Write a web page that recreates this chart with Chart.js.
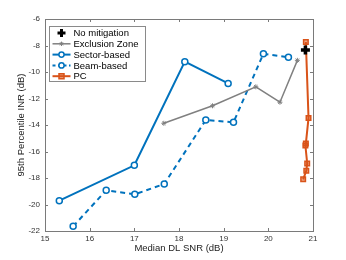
<!DOCTYPE html>
<html>
<head>
<meta charset="utf-8">
<script src="https://cdn.jsdelivr.net/npm/chart.js@4.4.1/dist/chart.umd.min.js"></script>
<style>
  html, body { margin: 0; padding: 0; background: #fff; }
  #wrap { width: 346px; height: 260px; position: relative; }
</style>
</head>
<body>
<div id="wrap"><canvas id="chart" width="346" height="260"></canvas></div>
<script>
// values
const noMitX = [20.83];
const noMitY = [-8.34];
const exclX = [17.66, 18.75, 19.72, 20.26, 20.65];
const exclY = [-13.87, -12.55, -11.12, -12.28, -9.12];
const sectorX = [15.32, 17.0, 18.13, 19.1];
const sectorY = [-19.71, -17.04, -9.22, -10.86];
const beamX = [15.63, 16.37, 17.01, 17.67, 18.6, 19.22, 19.89, 20.45];
const beamY = [-21.65, -18.93, -19.23, -18.45, -13.62, -13.8, -8.62, -8.89];
const pcX = [20.78, 20.85, 20.87, 20.83, 20.84, 20.9, 20.84];
const pcY = [-18.1, -17.45, -16.9, -15.55, -15.4, -13.47, -7.74];

const xTicks = [15, 16, 17, 18, 19, 20, 21];
const yTicks = [-22, -20, -18, -16, -14, -12, -10, -8, -6];
const seriesNames = ['No mitigation', 'Exclusion Zone', 'Sector-based', 'Beam-based', 'PC'];

const FONT = '"Liberation Sans", Arial, Helvetica, sans-serif';
const BLUE = '#0072BD';
const ORANGE = '#D95319';
const GRAY = '#808080';

function pts(xs, ys) {
  return xs.map((x, i) => ({ x: x, y: ys[i] }));
}

const datasets = [
  {
    label: seriesNames[0], data: pts(noMitX, noMitY), showLine: false,
    pointStyle: 'cross', pointRadius: 4.5, pointBorderWidth: 3.5,
    borderColor: '#000', backgroundColor: '#000'
  },
  {
    label: seriesNames[1], data: pts(exclX, exclY), showLine: true,
    borderColor: GRAY, borderWidth: 1.5, pointStyle: 'star', pointRadius: 2.5,
    pointBorderWidth: 1, pointBorderColor: GRAY, backgroundColor: GRAY
  },
  {
    label: seriesNames[2], data: pts(sectorX, sectorY), showLine: true,
    borderColor: BLUE, borderWidth: 2, pointStyle: 'circle', pointRadius: 3,
    pointBorderWidth: 1.5, pointBackgroundColor: '#fff', pointBorderColor: BLUE
  },
  {
    label: seriesNames[3], data: pts(beamX, beamY), showLine: true,
    borderColor: BLUE, borderWidth: 2, borderDash: [5, 4], pointStyle: 'circle', pointRadius: 3,
    pointBorderWidth: 1.5, pointBackgroundColor: '#fff', pointBorderColor: BLUE
  },
  {
    label: seriesNames[4], data: pts(pcX, pcY), showLine: true,
    borderColor: ORANGE, borderWidth: 2, pointStyle: 'rect', pointRadius: 3.2,
    pointBorderWidth: 1.5, pointBackgroundColor: 'rgba(217,83,25,0.55)', pointBorderColor: ORANGE
  }
];

// legend sample marker, drawn by hand
function legendMarker(ctx, ds, xm, cy) {
  ctx.save();
  ctx.strokeStyle = ds.pointBorderColor || ds.borderColor;
  ctx.fillStyle = ds.pointBackgroundColor || ds.backgroundColor;
  ctx.lineWidth = ds.pointBorderWidth;
  ctx.beginPath();
  if (ds.pointStyle === 'circle') {
    ctx.arc(xm, cy, 2.6, 0, Math.PI * 2);
    ctx.fill(); ctx.stroke();
  } else if (ds.pointStyle === 'rect') {
    const r = 2.5;
    ctx.rect(xm - r, cy - r, 2 * r, 2 * r);
    ctx.fill(); ctx.stroke();
  } else if (ds.pointStyle === 'cross') {
    const r = 4;
    ctx.lineWidth = 3;
    ctx.moveTo(xm - r, cy); ctx.lineTo(xm + r, cy);
    ctx.moveTo(xm, cy - r); ctx.lineTo(xm, cy + r);
    ctx.stroke();
  } else {
    const r = 2.2;
    ctx.moveTo(xm - r, cy); ctx.lineTo(xm + r, cy);
    ctx.moveTo(xm, cy - r); ctx.lineTo(xm, cy + r);
    ctx.moveTo(xm - r * 0.7, cy - r * 0.7); ctx.lineTo(xm + r * 0.7, cy + r * 0.7);
    ctx.moveTo(xm - r * 0.7, cy + r * 0.7); ctx.lineTo(xm + r * 0.7, cy - r * 0.7);
    ctx.stroke();
  }
  ctx.restore();
}

// axes box with inward ticks on all four sides, plus the legend
const boxPlugin = {
  id: 'box',
  afterDatasetsDraw(chart) {
    const { ctx, chartArea: a, scales } = chart;
    ctx.save();
    ctx.strokeStyle = '#7a7a7a';
    ctx.lineWidth = 1;
    ctx.beginPath();
    xTicks.forEach(v => {
      const px = Math.round(scales.x.getPixelForValue(v)) + 0.5;
      ctx.moveTo(px, a.bottom); ctx.lineTo(px, a.bottom - 3);
      ctx.moveTo(px, a.top); ctx.lineTo(px, a.top + 3);
    });
    yTicks.forEach(v => {
      const py = Math.round(scales.y.getPixelForValue(v)) + 0.5;
      ctx.moveTo(a.left, py); ctx.lineTo(a.left + 3, py);
      ctx.moveTo(a.right, py); ctx.lineTo(a.right - 3, py);
    });
    ctx.stroke();
    ctx.strokeRect(Math.round(a.left) + 0.5, Math.round(a.top) + 0.5,
      Math.round(a.right - a.left), Math.round(a.bottom - a.top));
    ctx.restore();
  },
  afterDraw(chart) {
    const ctx = chart.ctx;
    const bx = 49.5, by = 26.5, bw = 96, bh = 55;
    ctx.save();
    ctx.fillStyle = '#fff';
    ctx.fillRect(bx, by, bw, bh);
    ctx.strokeStyle = '#8a8a8a';
    ctx.lineWidth = 1;
    ctx.strokeRect(bx, by, bw, bh);
    ctx.font = '9.5px ' + FONT;
    ctx.textBaseline = 'middle';
    datasets.forEach((ds, i) => {
      const cy = 33 + i * 10.8;
      const x0 = 52.5, x1 = 70.5, xm = 61.5;
      if (ds.showLine) {
        ctx.save();
        ctx.strokeStyle = ds.borderColor;
        ctx.lineWidth = ds.borderWidth;
        if (ds.borderDash) ctx.setLineDash([3, 2.5]);
        ctx.beginPath();
        ctx.moveTo(x0, cy); ctx.lineTo(x1, cy);
        ctx.stroke();
        ctx.restore();
      }
      legendMarker(ctx, ds, xm, cy);
      ctx.fillStyle = '#000';
      ctx.fillText(ds.label, 73.5, cy + 0.5);
    });
    ctx.restore();
  }
};

const ctx = document.getElementById('chart').getContext('2d');
const chart = new Chart(ctx, {
  type: 'scatter',
  data: { datasets: datasets },
  options: {
    responsive: false,
    animation: false,
    devicePixelRatio: 1,
    layout: { padding: { top: 19, right: 33, left: 0, bottom: 0 } },
    plugins: { legend: { display: false }, tooltip: { enabled: false } },
    scales: {
      x: {
        type: 'linear', min: 15, max: 21,
        afterFit: s => { s.height = 29; },
        afterBuildTicks: s => { s.ticks = xTicks.map(v => ({ value: v })); },
        grid: { display: false, drawTicks: false },
        border: { display: false },
        ticks: { font: { size: 8, family: FONT }, color: '#333', padding: 3, maxRotation: 0 },
        title: { display: true, text: 'Median DL SNR (dB)', font: { size: 9.5, family: FONT }, color: '#222', padding: { top: 0, bottom: 5.5 } }
      },
      y: {
        type: 'linear', min: -22, max: -6,
        afterFit: s => { s.width = 45; },
        afterBuildTicks: s => { s.ticks = yTicks.map(v => ({ value: v })); },
        grid: { display: false, drawTicks: false },
        border: { display: false },
        ticks: { font: { size: 8, family: FONT }, color: '#333', padding: 5 },
        title: { display: true, text: '95th Percentile INR (dB)', font: { size: 9.5, family: FONT }, color: '#222', padding: { top: 16, bottom: 0 } }
      }
    }
  },
  plugins: [boxPlugin]
});
</script>
</body>
</html>
